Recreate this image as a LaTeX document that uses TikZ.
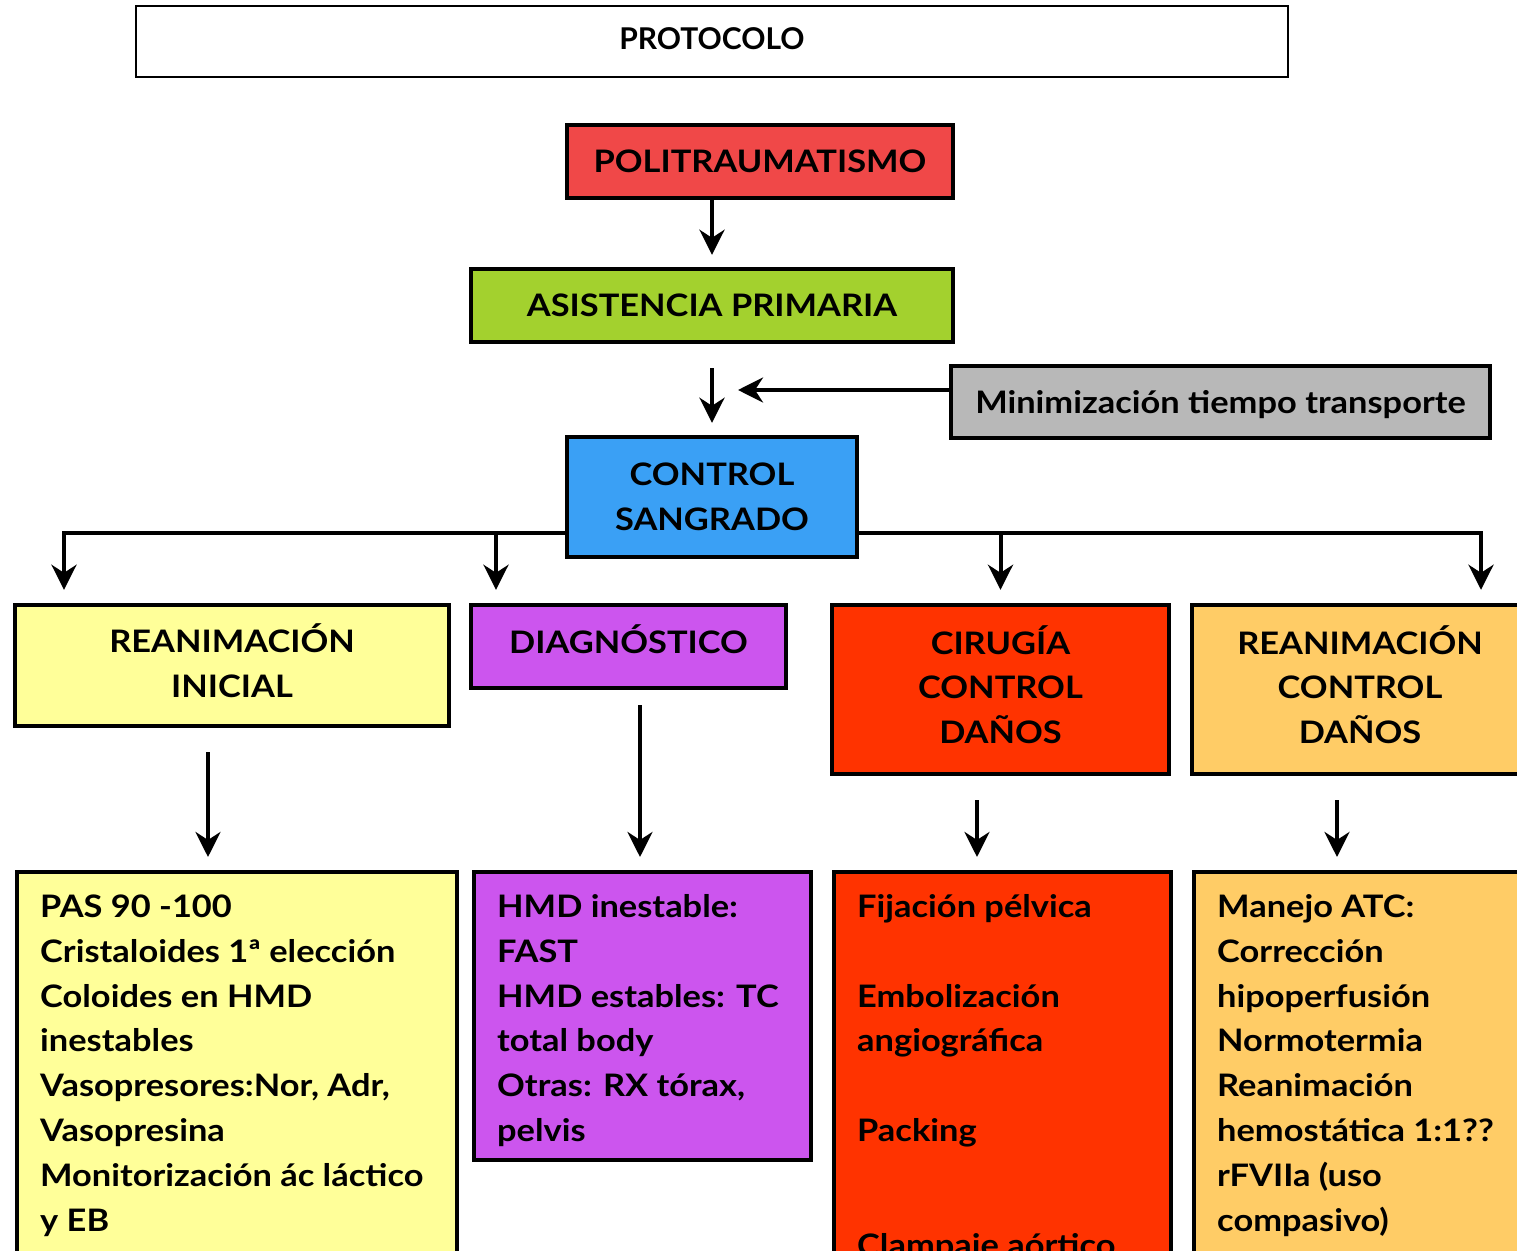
\documentclass[tikz,border=0pt]{standalone}
\usepackage{fontspec}
\setmainfont{Lato}[FakeStretch=1.11]
\newfontfamily\protofont{Lato}
\usetikzlibrary{arrows.meta,backgrounds}
\definecolor{cred}{HTML}{F04848}
\definecolor{cgreen}{HTML}{A3D12E}
\definecolor{cgray}{HTML}{B8B8B8}
\definecolor{cblue}{HTML}{3AA0F5}
\definecolor{cviol}{HTML}{CC55EE}
\definecolor{cyel}{HTML}{FFFF99}
\definecolor{cora}{HTML}{FF3300}
\definecolor{clor}{HTML}{FFCC66}
\newcommand\hfont{\bfseries\fontsize{15.5}{22.45}\selectfont}
\tikzset{
  box/.style={draw, line width=2.2pt, font=\hfont, align=center, inner sep=0pt},
  bbox/.style={draw, line width=2.2pt, anchor=north west, inner sep=0pt, font=\hfont},
  tip/.tip={Stealth[length=12.5pt,width=12.5pt,inset=4pt]},
  arr/.style={line width=2pt, -tip},
}
\begin{document}
\begin{tikzpicture}[x=0.5pt,y=-0.5pt]
\path[use as bounding box] (0,0) rectangle (1517,1251);
\clip (0,0) rectangle (1517,1251);

% top boxes
\node[box, line width=1pt, font=\protofont\bfseries\fontsize{15}{18}\selectfont, text depth=3pt, minimum width=576pt, minimum height=35.5pt] (proto) at (712,41.5) {PROTOCOLO};
\node[box, fill=cred, minimum width=193pt, minimum height=36.5pt] (poli) at (760,161.5) {POLITRAUMATISMO};
\node[box, fill=cgreen, minimum width=241pt, minimum height=36.5pt] (asist) at (712,305.5) {ASISTENCIA PRIMARIA};
\node[box, fill=cgray, minimum width=269.5pt, minimum height=36pt, text depth=0pt] (mini) at (1220.5,402) {Minimización tiempo transporte};
\node[box, fill=cblue, minimum width=145pt, minimum height=60pt] (ctrl) at (712,497) {CONTROL\\SANGRADO};

% second row
\node[box, fill=cyel, minimum width=217pt, minimum height=60.5pt, text depth=5pt] (reani) at (232,665.5) {REANIMACIÓN\\INICIAL};
\node[box, fill=cviol, minimum width=157.5pt, minimum height=41.5pt, text depth=7pt] (diag) at (628.5,646.5) {DIAGNÓSTICO};
\node[box, fill=cora, minimum width=168.5pt, minimum height=84.5pt, text depth=5pt] (ciru) at (1000.5,689.5) {CIRUGÍA\\CONTROL\\DAÑOS};
\node[box, fill=clor, minimum width=168pt, minimum height=84.5pt, text depth=5pt] (rcd) at (1360,689.5) {REANIMACIÓN\\CONTROL\\DAÑOS};

% bottom boxes
\node[bbox, fill=cyel] (b1) at (15,870) {\hspace*{11.5pt}\parbox[t][205pt][t]{208.5pt}{\raggedright\rule{0pt}{22.5pt}PAS 90 -100\\
Cristaloides 1ª elección\\
Coloides en HMD\\
inestables\\
Vasopresores:Nor, Adr,\\
Vasopresina\\
Monitorización ác láctico\\
y EB}};
\node[bbox, fill=cviol] (b2) at (472,870) {\hspace*{11.5pt}\parbox[t][144pt][t]{157pt}{\raggedright\rule{0pt}{22.5pt}HMD inestable:\\
FAST\\
HMD estables: TC\\
total body\\
Otras: RX tórax,\\
pelvis}};
\node[bbox, fill=cora] (b3) at (832,870) {\hspace*{11.5pt}\parbox[t][205pt][t]{157pt}{\raggedright\rule{0pt}{22.5pt}Fijación pélvica\\[22.45pt]
Embolización\\
angiográfica\\[22.45pt]
Packing\\[35pt]
Clampaje aórtico}};
\node[bbox, fill=clor] (b4) at (1192,870) {\hspace*{11.5pt}\parbox[t][205pt][t]{156.5pt}{\raggedright\rule{0pt}{22.5pt}Manejo ATC:\\
Corrección\\
hipoperfusión\\
Normotermia\\
Reanimación\\
hemostática 1:1??\\
rFVIIa (uso\\
compasivo)}};

% helper coordinates
\coordinate (mj) at (738,390);
\coordinate (busL) at (64,533);
\coordinate (busR) at (1481,533);
\coordinate (bD) at (496,533);
\coordinate (xa) at (208,0);
\coordinate (xb) at (640,0);
\coordinate (xc) at (977,0);
\coordinate (xd) at (1337,0);

% connectors
\draw[arr, shorten >=6pt] (poli.south -| asist.north) -- (asist.north);
\draw[arr, shorten <=12pt, shorten >=6pt] (asist.south) -- (ctrl.north);
\draw[arr] (mini.west |- mj) -- (mj);

\begin{scope}[on background layer]
\draw[line width=2pt, tip-tip, shorten <=6.5pt, shorten >=6.5pt]
  (busL |- reani.north) -- (busL) -- (busR) -- (busR |- rcd.north);
\end{scope}
\draw[arr, shorten >=6.5pt] (bD) -- (bD |- diag.north);
\draw[arr, shorten >=6.5pt] (ciru.north |- busL) -- (ciru.north);

\draw[arr, shorten <=12pt, shorten >=6.5pt] (reani.south -| xa) -- (b1.north -| xa);
\draw[arr, shorten <=7.5pt, shorten >=6.5pt] (diag.south -| xb) -- (b2.north -| xb);
\draw[arr, shorten <=12pt, shorten >=6.5pt] (ciru.south -| xc) -- (b3.north -| xc);
\draw[arr, shorten <=12pt, shorten >=6.5pt] (rcd.south -| xd) -- (b4.north -| xd);
\end{tikzpicture}
\end{document}
